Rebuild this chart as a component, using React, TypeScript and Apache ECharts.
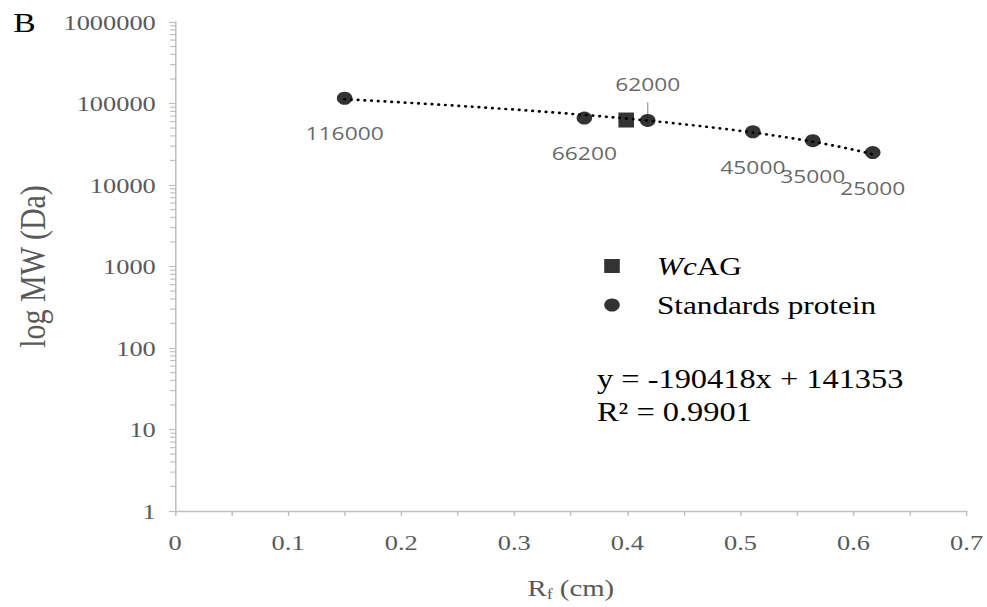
import React, { useEffect, useRef } from "react";
import * as echarts from "echarts";

// ---- data ----
const rfStandards = [0.15, 0.362, 0.418, 0.511, 0.564, 0.617];
const mwStandards = [116000, 66200, 62000, 45000, 35000, 25000];
const rfSample = [0.399];
const mwSample = [62700];
const slope = -190418;
const intercept = 141353;
const rSquared = "0.9901";
const legendNames = ["WcAG", "Standards protein"];
const leaderIndex = 2; // label placed above with a leader line

// ---- layout ----
const S = 1.2; // horizontal stretch of the reference
const W = 987;
const H = 607;
const W0 = W / S;

const SERIF = '"Liberation Serif", "Times New Roman", serif';
const SANS = '"Open Sans", "Noto Sans", sans-serif';
const AXIS_GRAY = "#bfbfbf";
const LABEL_GRAY = "#595959";

function buildOption() {
  const x0 = rfStandards[0];
  const x1 = rfStandards[rfStandards.length - 1];
  const trend: number[][] = [];
  const steps = 60;
  for (let i = 0; i <= steps; i++) {
    const x = x0 + ((x1 - x0) * i) / steps;
    trend.push([x, slope * x + intercept]);
  }
  const minorTicks: number[][] = [];
  for (let k = 0; k < 6; k++) {
    for (let m = 2; m <= 9; m++) minorTicks.push([0, m * Math.pow(10, k)]);
  }

  return {
    animation: false,
    backgroundColor: "#ffffff",
    grid: { left: 175 / S, right: W0 - 966 / S, top: 22, bottom: H - 513 },
    xAxis: {
      type: "value",
      min: 0,
      max: 0.7,
      interval: 0.1,
      name: "{r|R}{s|f}{r| (cm)}",
      nameLocation: "middle",
      nameGap: 62,
      nameTextStyle: {
        rich: {
          r: { fontFamily: SERIF, fontSize: 24, color: LABEL_GRAY },
          s: { fontFamily: SERIF, fontSize: 15, color: LABEL_GRAY, padding: [14, 0, 0, 0] },
        },
      },
      axisLine: { show: true, lineStyle: { color: AXIS_GRAY, width: 1.3 } },
      axisTick: { show: true, length: 5, lineStyle: { color: AXIS_GRAY, width: 1.2 } },
      minorTick: { show: true, splitNumber: 2, length: 5, lineStyle: { color: AXIS_GRAY, width: 1.2 } },
      splitLine: { show: false },
      axisLabel: {
        fontFamily: SERIF,
        fontSize: 22,
        color: LABEL_GRAY,
        margin: 20,
        formatter: (v: number) => String(+v.toFixed(2)),
      },
    },
    yAxis: {
      type: "log",
      logBase: 10,
      min: 1,
      max: 1000000,
      name: "log MW (Da)",
      nameLocation: "middle",
      nameGap: 98,
      nameTextStyle: { fontFamily: SERIF, fontSize: 30, color: LABEL_GRAY },
      axisLine: { show: true, lineStyle: { color: AXIS_GRAY, width: 1.3 } },
      axisTick: { show: true, length: 5, lineStyle: { color: AXIS_GRAY, width: 1.2 } },
      splitLine: { show: false },
      axisLabel: {
        fontFamily: SERIF,
        fontSize: 22,
        color: LABEL_GRAY,
        margin: 16,
        formatter: (v: number) => String(Math.round(v)),
      },
    },
    legend: {
      orient: "vertical",
      left: 498.5,
      top: 248,
      itemWidth: 13,
      itemHeight: 14,
      itemGap: 13,
      data: [
        { name: legendNames[0], icon: "rect" },
        { name: legendNames[1], icon: "circle" },
      ],
      formatter: (name: string) =>
        name === "WcAG" ? "{p| }{i|Wc}{n|AG}" : "{p| }{n|" + name + "}",
      textStyle: {
        rich: {
          p: { width: 26, fontSize: 26, lineHeight: 30 },
          i: { fontFamily: SERIF, fontSize: 26, fontStyle: "italic", color: "#000", lineHeight: 30 },
          n: { fontFamily: SERIF, fontSize: 26, color: "#000", lineHeight: 30 },
        },
      },
    },
    graphic: [
      {
        type: "text",
        x: 11,
        y: 22,
        style: { text: "B", font: `28px ${SERIF}`, fill: "#000", verticalAlign: "middle" },
      },
      {
        type: "text",
        x: 597 / S,
        y: 394.5,
        style: {
          text: `y = ${slope}x + ${intercept}\nR² = ${rSquared}`,
          font: `27px ${SERIF}`,
          fill: "#000",
          verticalAlign: "middle",
          lineHeight: 33,
        },
      },
    ],
    series: [
      {
        name: "minorTicks",
        type: "custom",
        silent: true,
        clip: false,
        data: minorTicks,
        renderItem: (params: any, api: any) => {
          const p = api.coord([api.value(0), api.value(1)]);
          return {
            type: "line",
            shape: { x1: p[0] - 4, y1: p[1], x2: p[0], y2: p[1] },
            style: { stroke: AXIS_GRAY, lineWidth: 1.2 },
          };
        },
      },
      {
        name: "trend",
        type: "line",
        silent: true,
        showSymbol: false,
        symbol: "none",
        data: trend,
        lineStyle: { color: "#000", width: 2.7, type: [0.01, 5.6], cap: "round" },
        z: 3,
      },
      {
        name: legendNames[1],
        type: "scatter",
        symbol: "circle",
        symbolSize: 13,
        itemStyle: { color: "#000" },
        z: 4,
        data: rfStandards.map((x, i) => ({
          value: [x, mwStandards[i]],
          label: i === leaderIndex ? { offset: [0, -37] } : undefined,
        })),
        label: {
          show: true,
          position: "inside",
          offset: [0, 35],
          fontFamily: SANS,
          fontSize: 19,
          color: "#404040",
          formatter: (p: any) => String(p.value[1]),
        },
      },
      {
        name: "leader",
        type: "custom",
        silent: true,
        clip: false,
        z: 3,
        data: [[rfStandards[leaderIndex], mwStandards[leaderIndex]]],
        renderItem: (params: any, api: any) => {
          const p = api.coord([api.value(0), api.value(1)]);
          return {
            type: "line",
            shape: { x1: p[0], y1: p[1] - 18, x2: p[0], y2: p[1] - 3 },
            style: { stroke: "#a6a6a6", lineWidth: 1.2 },
          };
        },
      },
      {
        name: legendNames[0],
        type: "scatter",
        symbol: "rect",
        symbolSize: [13, 15],
        itemStyle: { color: "#000" },
        z: 5,
        data: rfSample.map((x, i) => [x, mwSample[i]]),
      },
    ],
  };
}

export default function App() {
  const ref = useRef<HTMLDivElement>(null);
  useEffect(() => {
    document.body.style.margin = "0";
    const chart = echarts.init(ref.current!, null, { renderer: "svg" });
    chart.setOption(buildOption() as any);
    return () => chart.dispose();
  }, []);
  return (
    <div
      style={{
        position: "fixed",
        left: 0,
        top: 0,
        width: W,
        height: H,
        overflow: "hidden",
        background: "#fff",
      }}
    >
      <div
        ref={ref}
        style={{
          width: W0,
          height: H,
          transform: `scaleX(${S})`,
          transformOrigin: "0 0",
        }}
      />
    </div>
  );
}
